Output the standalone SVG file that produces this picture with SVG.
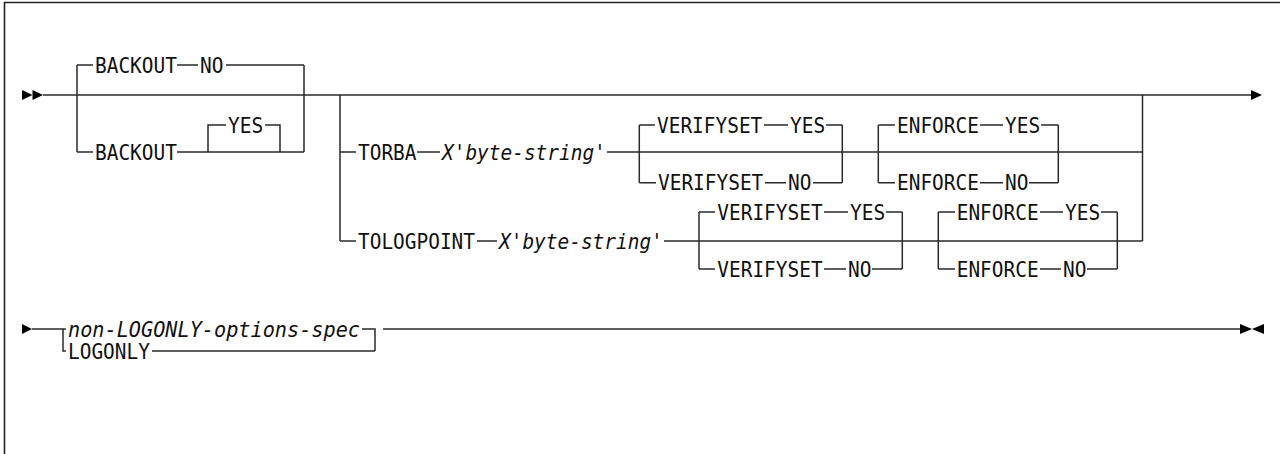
<svg xmlns="http://www.w3.org/2000/svg" width="1280" height="454" viewBox="0 0 1280 454">
<style>
.t{font-family:"DejaVu Sans Mono","Liberation Mono",monospace;font-size:20.5px;fill:#111}
.i{font-style:italic}
.ln{fill:none;stroke:#2a2a2a;stroke-width:1.5}
.mk{fill:#000}
</style>
<rect x="0" y="0" width="1280" height="454" fill="#fff"/>
<path d="M4.5 454V2.5H1280" fill="none" stroke="#222" stroke-width="1.6"/>
<g id="connectors" class="ln">
<path d="M43 95H1251"/>
<path d="M77 65V152M304 65V152M77 65H93M177 65H198M226 65H304M77 152H93M177 152H304M208 152V125H226M265 125H280V152"/>
<path d="M340 95V241M1142.5 95V241"/>
<path d="M340 152H356M417 152H440M607 152H1142.5"/>
<path d="M639.3 125V182.7M842.3 125V182.7M639.3 125H655M764 125H788M826 125H842.3M639.3 182.7H656M765 182.7H786M813 182.7H842.3"/>
<path d="M878.3 125V182.7M1058.3 125V182.7M878.3 125H895M980 125H1003M1041 125H1058.3M878.3 182.7H895M980 182.7H1003M1029 182.7H1058.3"/>
<path d="M340 241H356M477 241H497M664 241H1142.5"/>
<path d="M699 212V269M902.3 212V269M699 212H715M824 212H848M886 212H902.3M699 269H715M824 269H846M872 269H902.3"/>
<path d="M938.3 212V269M1117.3 212V269M938.3 212H955M1040 212H1063M1101 212H1117.3M938.3 269H955M1040 269H1061M1087 269H1117.3"/>
<path d="M32 329H63V351H66M63 329H66M362 329H375V351M152 351H375M383 329H1240"/>
</g>
<g id="markers" class="mk">
<polygon points="22,90 32.5,95 22,100"/>
<polygon points="32.5,90 43,95 32.5,100"/>
<polygon points="1251,90 1262,95 1251,100"/>
<polygon points="22,324 32,329 22,334"/>
<polygon points="1240,324 1252,329 1240,334"/>
<polygon points="1264,324 1252,329 1264,334"/>
</g>
<g id="backout-no"><text class="t" x="95" y="72.5" textLength="81.9" lengthAdjust="spacingAndGlyphs">BACKOUT</text><text class="t" x="200" y="72.5" textLength="23.4" lengthAdjust="spacingAndGlyphs">NO</text></g>
<g id="backout-yes"><text class="t" x="95" y="159.5" textLength="81.9" lengthAdjust="spacingAndGlyphs">BACKOUT</text><text class="t" x="228" y="132.5" textLength="35.1" lengthAdjust="spacingAndGlyphs">YES</text></g>
<g id="torba"><text class="t" x="358" y="159.5" textLength="58.5" lengthAdjust="spacingAndGlyphs">TORBA</text><text class="t i" x="442" y="159.5" textLength="163.8" lengthAdjust="spacingAndGlyphs">X'byte-string'</text></g>
<g id="torba-verifyset-yes"><text class="t" x="657" y="132.5" textLength="105.3" lengthAdjust="spacingAndGlyphs">VERIFYSET</text><text class="t" x="790" y="132.5" textLength="35.1" lengthAdjust="spacingAndGlyphs">YES</text></g>
<g id="torba-verifyset-no"><text class="t" x="658" y="190.2" textLength="105.3" lengthAdjust="spacingAndGlyphs">VERIFYSET</text><text class="t" x="788" y="190.2" textLength="23.4" lengthAdjust="spacingAndGlyphs">NO</text></g>
<g id="torba-enforce-yes"><text class="t" x="897" y="132.5" textLength="81.9" lengthAdjust="spacingAndGlyphs">ENFORCE</text><text class="t" x="1005" y="132.5" textLength="35.1" lengthAdjust="spacingAndGlyphs">YES</text></g>
<g id="torba-enforce-no"><text class="t" x="897" y="190.2" textLength="81.9" lengthAdjust="spacingAndGlyphs">ENFORCE</text><text class="t" x="1005" y="190.2" textLength="23.4" lengthAdjust="spacingAndGlyphs">NO</text></g>
<g id="tologpoint"><text class="t" x="358" y="248.5" textLength="117" lengthAdjust="spacingAndGlyphs">TOLOGPOINT</text><text class="t i" x="499" y="248.5" textLength="163.8" lengthAdjust="spacingAndGlyphs">X'byte-string'</text></g>
<g id="tlp-verifyset-yes"><text class="t" x="717.3" y="219.5" textLength="105.3" lengthAdjust="spacingAndGlyphs">VERIFYSET</text><text class="t" x="850" y="219.5" textLength="35.1" lengthAdjust="spacingAndGlyphs">YES</text></g>
<g id="tlp-verifyset-no"><text class="t" x="717.3" y="276.5" textLength="105.3" lengthAdjust="spacingAndGlyphs">VERIFYSET</text><text class="t" x="848" y="276.5" textLength="23.4" lengthAdjust="spacingAndGlyphs">NO</text></g>
<g id="tlp-enforce-yes"><text class="t" x="956.7" y="219.5" textLength="81.9" lengthAdjust="spacingAndGlyphs">ENFORCE</text><text class="t" x="1065" y="219.5" textLength="35.1" lengthAdjust="spacingAndGlyphs">YES</text></g>
<g id="tlp-enforce-no"><text class="t" x="956.7" y="276.5" textLength="81.9" lengthAdjust="spacingAndGlyphs">ENFORCE</text><text class="t" x="1063" y="276.5" textLength="23.4" lengthAdjust="spacingAndGlyphs">NO</text></g>
<g id="non-logonly"><text class="t i" x="68" y="336.5" textLength="292" lengthAdjust="spacingAndGlyphs">non-LOGONLY-options-spec</text></g>
<g id="logonly"><text class="t" x="68" y="358.5" textLength="81.9" lengthAdjust="spacingAndGlyphs">LOGONLY</text></g>
</svg>
